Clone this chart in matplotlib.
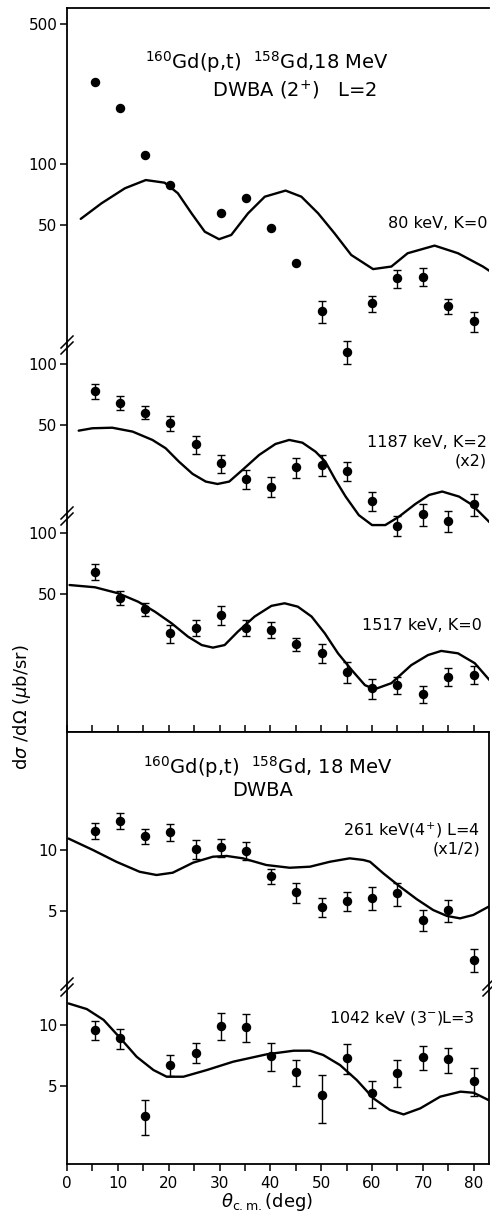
import matplotlib
matplotlib.use("Agg")
import matplotlib.pyplot as plt
from matplotlib.lines import Line2D
from matplotlib.ticker import FixedLocator, NullLocator, FixedFormatter, MultipleLocator
import numpy as np

# c.m. angles of the measured points (deg)
theta = [5.5, 10.5, 15.4, 20.3, 25.3, 30.2, 35.2, 40.1, 45.1, 50.1,
         55.0, 60.0, 65.0, 70.0, 75.0, 80.0]
theta_80 = [5.5, 10.5, 15.4, 20.3, 30.2, 35.2, 40.1, 45.1, 50.1,
            55.0, 60.0, 65.0, 70.0, 75.0, 80.0]

# 80 keV, K=0
ds_80 = [256, 190, 111, 79, 57, 68, 48, 32.4, 18.6, 11.7, 20.3, 27.1, 27.6, 19.7, 16.6]
er_80 = [0, 0, 0, 0, 0, 0, 0, 0, 2.3, 1.55, 1.9, 2.8, 2.9, 1.6, 1.9]
th_80_dw = [2.7, 6.8, 11.4, 15.5, 19.2, 21.8, 24.5, 27.1, 29.9, 32.3, 35.6, 38.9, 43.0,
            46.1, 49.4, 52.6, 55.9, 60.2, 63.8, 67.0, 72.3, 76.9, 81.8, 84.0]
dw_80 = [53.5, 64, 76, 83.5, 81, 71.8, 57, 46.2, 42.4, 44.5, 57, 69, 74,
         69, 57, 45.4, 35.4, 30.1, 31, 36.1, 39.4, 36.1, 31, 28.5]

# 1187 keV, K=2 (x2)
ds_1187 = [73.4, 64.2, 57.3, 50.7, 39.8, 32.0, 26.7, 24.5, 30.6, 31.5, 29.4, 20.8,
           15.7, 17.9, 16.6, 20.1]
er_1187 = [6.4, 5.0, 4.2, 4.4, 4.1, 3.4, 2.9, 2.8, 3.5, 3.7, 3.2, 2.3, 1.8, 2.2, 2.0, 2.5]
th_1187_dw = [2.3, 5.0, 8.9, 12.9, 16.8, 19.4, 22.0, 24.7, 27.3, 29.6, 31.9, 34.5, 37.8,
              41.0, 43.7, 46.3, 48.9, 50.8, 52.8, 54.8, 57.4, 60.0, 62.6, 65.3, 68.5,
              71.2, 73.8, 77.1, 79.7, 82.0, 84.0]
dw_1187 = [46.6, 47.9, 48.2, 46.1, 41.9, 38.1, 32.7, 28.4, 26.0, 25.3, 26.0, 29.7, 35.3,
           40.0, 41.9, 40.6, 36.6, 32.7, 26.5, 21.9, 17.7, 15.8, 15.8, 17.4, 20.1,
           22.3, 23.2, 21.9, 19.9, 17.4, 15.5]

# 1517 keV, K=0
ds_1517 = [64.2, 47.5, 41.7, 31.7, 33.8, 39.1, 33.8, 32.9, 27.9, 25.2, 20.4, 16.9,
           17.5, 15.8, 19.3, 19.7]
er_1517 = [6.1, 3.8, 3.2, 3.2, 3.2, 4.1, 3.2, 3.0, 2.1, 2.7, 2.4, 1.9, 1.7, 1.6, 2.0, 2.0]
th_1517_dw = [0.5, 5.5, 10.1, 14.0, 17.3, 20.6, 23.8, 26.5, 28.7, 31.0, 33.6, 36.9, 40.2,
              42.8, 45.4, 48.1, 50.7, 53.3, 56.0, 58.6, 60.5, 63.8, 67.7, 71.0, 73.6,
              76.9, 80.2, 82.5, 84.0]
dw_1517 = [55.1, 53.7, 50.1, 45.5, 40.6, 35.5, 30.5, 27.7, 26.9, 27.7, 32.3, 38.4, 43.4,
           44.7, 43.0, 38.4, 31.7, 25.2, 20.8, 17.5, 16.7, 17.9, 22.0, 24.7, 25.9,
           25.2, 22.5, 19.3, 17.5]

# 261 keV (4+) L=4 (x1/2)
ds_261 = [12.5, 14.0, 11.7, 12.3, 10.1, 10.3, 9.9, 7.43, 6.17, 5.19, 5.58, 5.79,
          6.09, 4.49, 5.03, 2.84]
er_261 = [1.2, 1.25, 0.95, 1.2, 1.1, 1.05, 1.0, 0.65, 0.72, 0.57, 0.6, 0.75, 0.8,
          0.52, 0.63, 0.37]
th_261_dw = [0.3, 5.1, 9.7, 14.3, 17.6, 20.8, 24.8, 28.7, 31.4, 34.6, 39.2, 43.8, 47.8,
             51.7, 55.6, 58.3, 59.6, 62.2, 65.5, 68.8, 72.0, 74.7, 77.3, 79.9, 82.9, 84.0]
dw_261 = [11.4, 10.0, 8.74, 7.79, 7.51, 7.71, 8.65, 9.26, 9.34, 9.09, 8.42, 8.16, 8.26,
          8.74, 9.09, 8.92, 8.74, 7.66, 6.57, 5.69, 5.03, 4.70, 4.57, 4.75, 5.22, 5.4]

# 1042 keV (3-) L=3
ds_1042 = [9.44, 8.59, 3.54, 6.34, 7.28, 9.93, 9.78, 7.03, 5.82, 4.46, 6.87, 4.57,
           5.80, 6.95, 6.75, 5.26]
er_1042 = [1.0, 1.0, 0.7, 0.75, 0.82, 1.55, 1.55, 1.15, 0.87, 1.2, 1.15, 0.72, 0.9,
           0.95, 0.95, 0.85]
th_1042_dw = [0.3, 3.9, 7.2, 10.5, 13.7, 17.0, 19.6, 22.9, 27.5, 32.7, 39.3, 44.6, 47.8,
              50.4, 53.7, 57.0, 60.3, 63.5, 66.2, 69.5, 73.4, 77.4, 80.0, 82.6, 84.0]
dw_1042 = [12.8, 12.0, 10.6, 8.59, 6.95, 5.97, 5.53, 5.53, 5.97, 6.57, 7.15, 7.45, 7.45,
           7.09, 6.32, 5.32, 4.31, 3.78, 3.59, 3.85, 4.40, 4.66, 4.60, 4.27, 4.1]

W, H = 492, 1216
L, R = 67, 489           # left / right edge of the plotting frame (px)
TOP_PANEL = (8, 732)     # y extent (px from top)
BOT_PANEL = (732, 1164)
PX_DEC = 201.0           # pixels per decade on every log scale
XMAX = 83.0

fig = plt.figure(figsize=(W / 100, H / 100), dpi=100)
fig.patch.set_facecolor("white")


def fx(x):
    return x / W


def fy(y):
    return 1 - y / H


def frame(panel):
    t, b = panel
    ax = fig.add_axes([fx(L), fy(b), fx(R) - fx(L), (b - t) / H])
    ax.set_xlim(0, XMAX)
    ax.set_ylim(0, 1)
    ax.set_yticks([])
    for s in ax.spines.values():
        s.set_linewidth(1.3)
    return ax


def log_axes(panel, ref_val, ref_y, ticks):
    t, b = panel
    ax = fig.add_axes([fx(L), fy(b), fx(R) - fx(L), (b - t) / H])
    ax.set_yscale("log")
    top = np.log10(ref_val) + (ref_y - t) / PX_DEC
    bot = top - (b - t) / PX_DEC
    ax.set_ylim(10 ** bot, 10 ** top)
    ax.set_xlim(0, XMAX)
    ax.patch.set_visible(False)
    for s in ax.spines.values():
        s.set_visible(False)
    ax.set_xticks([])
    ax.yaxis.set_major_locator(FixedLocator(ticks))
    ax.yaxis.set_minor_locator(NullLocator())
    ax.yaxis.set_major_formatter(FixedFormatter([str(v) for v in ticks]))
    ax.tick_params(axis="y", direction="out", length=5, width=1.1, pad=2, labelsize=11)
    return ax


def draw_set(ax, th, ds, er, th_dw, dw):
    ax.plot(th_dw, dw, color="black", lw=1.7, solid_joinstyle="round",
            solid_capstyle="round")
    ax.errorbar(th, ds, yerr=er, fmt="o", color="black", ms=5.8, capsize=2.6,
                elinewidth=1.0, capthick=1.0)


def break_mark(x, y):
    for dy in (-3, 3):
        fig.add_artist(Line2D([fx(x - 6), fx(x + 6)], [fy(y + dy + 6), fy(y + dy - 6)],
                              color="black", lw=1.1))


# top panel frame
fa = frame(TOP_PANEL)
fa.spines["right"].set_visible(False)
fa.xaxis.set_major_locator(MultipleLocator(5))
fa.tick_params(axis="x", direction="in", length=5, width=1.1, labelbottom=False)

# bottom panel frame
fb = frame(BOT_PANEL)
fb.set_xticks(range(0, 81, 10))
fb.xaxis.set_minor_locator(MultipleLocator(5))
fb.tick_params(axis="x", which="both", direction="out", length=5, width=1.1,
               labelsize=11, pad=4)

a1 = log_axes(TOP_PANEL, 100, 164.3, [50, 100, 500])
draw_set(a1, theta_80, ds_80, er_80, th_80_dw, dw_80)
a2 = log_axes(TOP_PANEL, 100, 364, [50, 100])
draw_set(a2, theta, ds_1187, er_1187, th_1187_dw, dw_1187)
a3 = log_axes(TOP_PANEL, 100, 533, [50, 100])
draw_set(a3, theta, ds_1517, er_1517, th_1517_dw, dw_1517)
a4 = log_axes(BOT_PANEL, 10, 850, [5, 10])
draw_set(a4, theta, ds_261, er_261, th_261_dw, dw_261)
a5 = log_axes(BOT_PANEL, 10, 1025, [5, 10])
draw_set(a5, theta, ds_1042, er_1042, th_1042_dw, dw_1042)

for y in (345, 516):
    break_mark(L, y)
break_mark(L, 987)
break_mark(R, 987)

txt = dict(color="black", va="center")
fig.text(fx(267), fy(62), r"$^{160}$Gd(p,t)  $^{158}$Gd,18 MeV", ha="center", fontsize=14, **txt)
fig.text(fx(295), fy(90), r"DWBA (2$^{+}$)   L=2", ha="center", fontsize=14, **txt)
fig.text(fx(488), fy(223), "80 keV, K=0", ha="right", fontsize=11.5, **txt)
fig.text(fx(487), fy(443), "1187 keV, K=2", ha="right", fontsize=11.5, **txt)
fig.text(fx(487), fy(461), "(x2)", ha="right", fontsize=11.5, **txt)
fig.text(fx(482), fy(625), "1517 keV, K=0", ha="right", fontsize=11.5, **txt)
fig.text(fx(268), fy(767), r"$^{160}$Gd(p,t)  $^{158}$Gd, 18 MeV", ha="center", fontsize=14, **txt)
fig.text(fx(263), fy(791), "DWBA", ha="center", fontsize=14, **txt)
fig.text(fx(480), fy(830), r"261 keV(4$^{+}$) L=4", ha="right", fontsize=11.5, **txt)
fig.text(fx(480), fy(849), "(x1/2)", ha="right", fontsize=11.5, **txt)
fig.text(fx(475), fy(1018), r"1042 keV (3$^{-}$)L=3", ha="right", fontsize=11.5, **txt)
fig.text(fx(267), fy(1202), r"$\theta_{\rm c.m.}$(deg)", ha="center", fontsize=13, **txt)
fig.text(fx(22), fy(707), r"d$\sigma$ /d$\Omega$ ($\mu$b/sr)", ha="center", rotation=90,
         fontsize=13, **txt)

fig.savefig("out.png", dpi=100, facecolor="white")
